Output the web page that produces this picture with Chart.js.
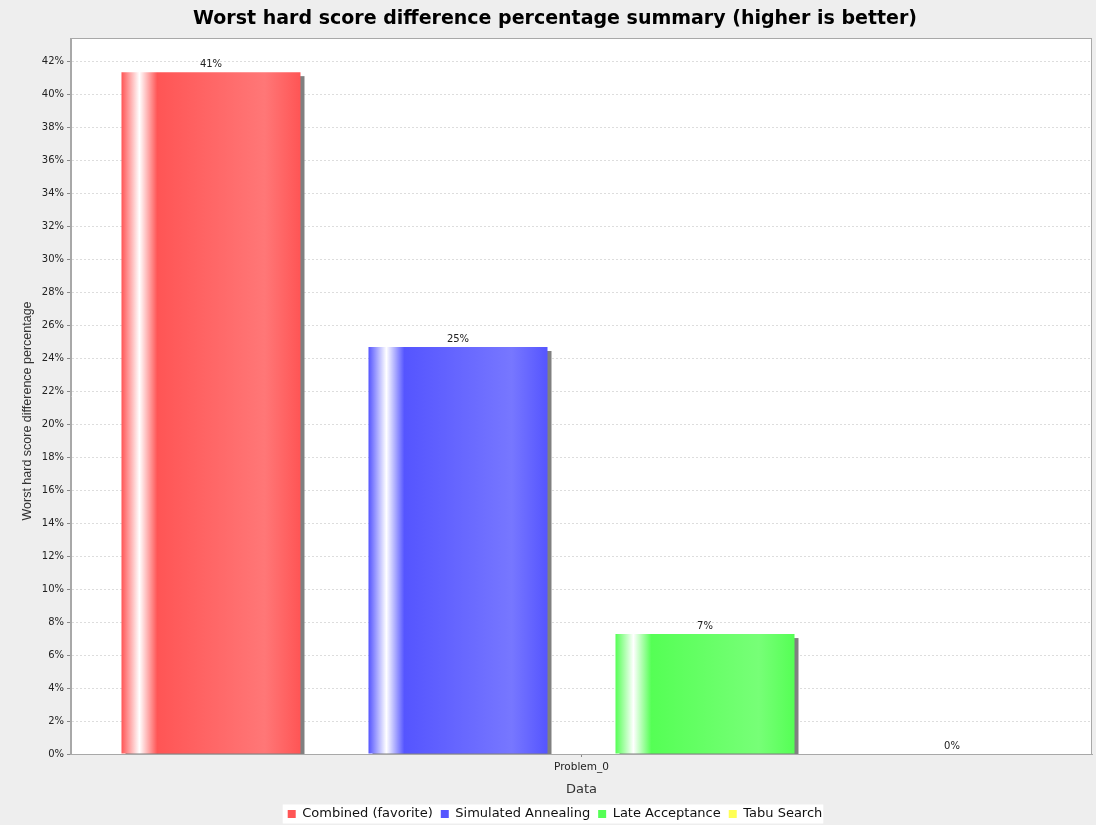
<!DOCTYPE html>
<html>
<head>
<meta charset="utf-8">
<script src="https://cdn.jsdelivr.net/npm/chart.js@4.4.0/dist/chart.umd.min.js"></script>
<style>
  html, body { margin:0; padding:0; background:#eeeeee; }
  canvas { display:block; }
</style>
</head>
<body>
<canvas id="chart" width="1096" height="825"></canvas>
<script>
// ------------------------
// DATA
// ------------------------
const categories = ["Problem_0"];
const seriesNames = ["Combined (favorite)", "Simulated Annealing", "Late Acceptance", "Tabu Search"];
const seriesValues = [41.33, 24.67, 7.27, 0];
const seriesColors = ["#ff5555", "#5555ff", "#55ff55", "#ffff55"];
const seriesLight = ["#ff7777", "#7777ff", "#77ff77", "#ffff77"];
const yMax = 43.4;
const yStep = 2;

const chartTitle = "Worst hard score difference percentage summary (higher is better)";
const yTitle = "Worst hard score difference percentage";
const xTitle = "Data";

// ------------------------
// PLUGIN: plot background, shadows, gradients, labels
// ------------------------
const decor = {
  id: "decor",
  beforeDraw(chart){
    const { ctx, chartArea:a } = chart;
    ctx.save();
    ctx.fillStyle = "#ffffff";
    ctx.fillRect(a.left, a.top, a.right - a.left, a.bottom - a.top);

    // white box behind the legend
    const hb = chart.legend && chart.legend.legendHitBoxes;
    if(hb && hb.length){
      const l = Math.min(...hb.map(h=> h.left)) - 5;
      const r = Math.max(...hb.map(h=> h.left + h.width)) + 1;
      const t = hb[0].top - 3;
      const b = hb[0].top + hb[0].height + 3;
      ctx.fillRect(l, t, r - l, b - t);
    }
    ctx.restore();
  },
  beforeDatasetsDraw(chart){
    const { ctx, chartArea:a } = chart;
    ctx.save();
    ctx.beginPath();
    ctx.rect(a.left, a.top, a.right - a.left, a.bottom - a.top);
    ctx.clip();
    chart.data.datasets.forEach((ds, i)=>{
      chart.getDatasetMeta(i).data.forEach(bar=>{
        const h = bar.base - bar.y;
        if(h <= 0) return;
        const left = bar.x - bar.width / 2;
        // drop shadow
        ctx.fillStyle = "#808080";
        ctx.fillRect(left + 4, bar.y + 4, bar.width, h);
        // JFreeChart-like gradient
        const g = ctx.createLinearGradient(left, 0, left + bar.width, 0);
        g.addColorStop(0, seriesColors[i]);
        g.addColorStop(0.10, "#ffffff");
        g.addColorStop(0.20, seriesColors[i]);
        g.addColorStop(0.80, seriesLight[i]);
        g.addColorStop(1, seriesColors[i]);
        bar.options.backgroundColor = g;
      });
    });
    ctx.restore();
  },
  afterDatasetsDraw(chart){
    const { ctx, chartArea:a } = chart;
    ctx.save();
    // value labels
    ctx.font = "10px 'DejaVu Sans'";
    ctx.fillStyle = "#222222";
    ctx.textAlign = "center";
    ctx.textBaseline = "bottom";
    chart.data.datasets.forEach((ds, i)=>{
      chart.getDatasetMeta(i).data.forEach((bar, j)=>{
        ctx.fillText(Math.round(ds.data[j]) + "%", bar.x, bar.y - 3);
      });
    });
    // plot outline
    ctx.strokeStyle = "#a8a8a8";
    ctx.lineWidth = 1;
    ctx.strokeRect(Math.round(a.left) - 0.5, Math.round(a.top) + 0.5,
                   Math.round(a.right - a.left), Math.round(a.bottom - a.top));
    ctx.restore();
  },
  afterDraw(chart){
    const { ctx } = chart;
    // y axis title (JFreeChart centres it a bit lower than the plot middle)
    ctx.save();
    ctx.translate(28, 411);
    ctx.rotate(-Math.PI / 2);
    ctx.font = "12.5px 'Liberation Sans'";
    ctx.fillStyle = "#333333";
    ctx.textAlign = "center";
    ctx.textBaseline = "middle";
    ctx.fillText(yTitle, 0, 0);
    ctx.restore();
  }
};

// ------------------------
// CHART
// ------------------------
const datasets = seriesNames.map((name, i)=>({
  label: name,
  data: [seriesValues[i]],
  backgroundColor: seriesColors[i],
  borderWidth: 0,
  categoryPercentage: 0.9677,
  barPercentage: 0.7247
}));

new Chart(document.getElementById("chart"), {
  type: "bar",
  data: { labels: categories, datasets },
  plugins: [decor],
  options: {
    responsive: false,
    animation: false,
    events: [],
    layout: { padding: { left: 18, right: 4, top: 0, bottom: -5.5 } },
    plugins: {
      title: {
        display: true,
        text: chartTitle,
        color: "#000000",
        font: { family: "'DejaVu Sans'", size: 19, weight: "bold" },
        padding: { top: 7.8, bottom: 7.4 }
      },
      legend: {
        position: "bottom",
        labels: {
          boxWidth: 8,
          boxHeight: 8,
          padding: 8,
          color: "#111111",
          font: { family: "'DejaVu Sans'", size: 13 }
        }
      },
      tooltip: { enabled: false }
    },
    scales: {
      x: {
        offset: true,
        grid: { display: true, drawOnChartArea: false, drawTicks: true, tickLength: 3, offset: false, color: "#888888" },
        border: { display: true, color: "#a8a8a8" },
        ticks: { color: "#222222", padding: 4, font: { family: "'DejaVu Sans'", size: 10.5 } },
        title: {
          display: true,
          text: xTitle,
          color: "#333333",
          font: { family: "'DejaVu Sans'", size: 13 },
          padding: { top: 0, bottom: 1.7 }
        },
        afterFit(scale){ scale.height = 45.5; }
      },
      y: {
        min: 0,
        max: yMax,
        grid: { color: "#dddddd", tickColor: "#888888", tickLength: 4, tickBorderDash: [] },
        border: { display: true, color: "#a8a8a8", dash: [2, 2] },
        ticks: {
          stepSize: yStep,
          includeBounds: false,
          padding: 3,
          color: "#222222",
          font: { family: "'DejaVu Sans'", size: 10 },
          callback: v => v + "%"
        },
        afterFit(scale){ scale.width = 53; }
      }
    }
  }
});
</script>
</body>
</html>
